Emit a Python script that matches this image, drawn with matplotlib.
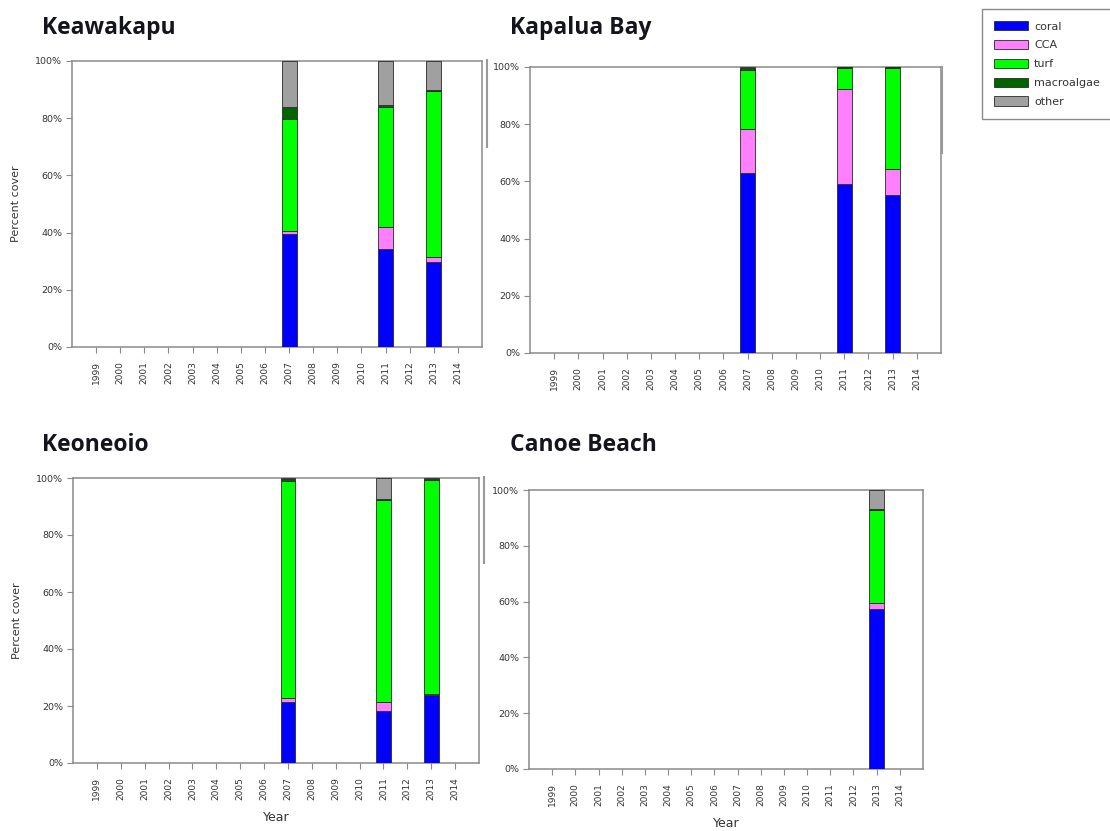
import matplotlib
matplotlib.use("Agg")
import matplotlib.pyplot as plt
from matplotlib.patches import Patch
from matplotlib.lines import Line2D
import numpy as np

# Benthic cover categories and colours
categories = ["coral", "CCA", "turf", "macroalgae", "other"]
cat_colors = ["#0000FF", "#FF80FF", "#00FF00", "#006400", "#A0A0A0"]

# Survey years shown on every x axis
all_years = list(range(1999, 2015))

# Percent cover per site (one value per surveyed year)
keawakapu_years = [2007, 2011, 2013]
keawakapu_coral = [39.4, 34.2, 29.8]
keawakapu_cca = [1.1, 7.9, 1.5]
keawakapu_turf = [39.1, 41.9, 58.3]
keawakapu_macro = [4.2, 0.5, 0.4]
keawakapu_other = [16.2, 15.5, 10.0]

kapalua_years = [2007, 2011, 2013]
kapalua_coral = [62.8, 59.2, 55.1]
kapalua_cca = [15.5, 33.1, 9.1]
kapalua_turf = [20.7, 7.2, 35.4]
kapalua_macro = [0.8, 0.5, 0.4]
kapalua_other = [0.2, 0.0, 0.0]

keoneoio_years = [2007, 2011, 2013]
keoneoio_coral = [21.3, 18.4, 23.9]
keoneoio_cca = [1.6, 2.9, 0.3]
keoneoio_turf = [76.0, 71.1, 75.2]
keoneoio_macro = [0.8, 0.2, 0.4]
keoneoio_other = [0.3, 7.4, 0.2]

canoe_years = [2013]
canoe_coral = [57.3]
canoe_cca = [2.3]
canoe_turf = [33.2]
canoe_macro = [0.3]
canoe_other = [6.9]

W, H = 1110, 831
fig = plt.figure(figsize=(W / 100, H / 100), dpi=100)
fig.patch.set_facecolor("white")

SPINE = "#8a8a8a"
TICKTXT = "#333333"


def px_axes(left, right, top, bottom):
    return fig.add_axes([left / W, (H - bottom) / H, (right - left) / W, (bottom - top) / H])


def stacked(ax, years, series, title, title_xy, ylabel=False, xlabel=False):
    idx = [all_years.index(y) for y in years]
    bottom = np.zeros(len(years))
    for vals, col in zip(series, cat_colors):
        vals = np.asarray(vals, dtype=float)
        ax.bar(idx, vals, width=0.62, bottom=bottom, color=col,
               edgecolor="#2a2a2a", linewidth=0.6, zorder=3)
        bottom += vals
    ax.set_xlim(-1, 16)
    ax.set_ylim(0, 100)
    ax.set_xticks(range(len(all_years)))
    ax.set_xticklabels([str(y) for y in all_years], rotation=90,
                       fontsize=6.5, color=TICKTXT)
    ax.set_yticks(range(0, 101, 20))
    ax.set_yticklabels([f"{v}%" for v in range(0, 101, 20)],
                       fontsize=6.8, color=TICKTXT)
    ax.tick_params(axis="both", direction="out", length=4, width=0.8,
                   color=SPINE, pad=3)
    ax.tick_params(axis="x", pad=6)
    for sp in ax.spines.values():
        sp.set_color(SPINE)
        sp.set_linewidth(1.1)
    if ylabel:
        ax.set_ylabel("Percent cover", fontsize=8, color=TICKTXT, labelpad=10)
    if xlabel:
        ax.set_xlabel("Year", fontsize=9, color=TICKTXT, labelpad=8)
    fig.text(title_xy[0] / W, 1 - title_xy[1] / H, title, fontsize=16.5,
             fontweight="bold", family=["Open Sans", "DejaVu Sans"],
             color="#14141f", ha="left", va="center")


ax_tl = px_axes(72, 482, 61, 347)
stacked(ax_tl, keawakapu_years,
        [keawakapu_coral, keawakapu_cca, keawakapu_turf, keawakapu_macro, keawakapu_other],
        "Keawakapu", (42, 28), ylabel=True)

ax_tr = px_axes(530, 941, 67, 353)
stacked(ax_tr, kapalua_years,
        [kapalua_coral, kapalua_cca, kapalua_turf, kapalua_macro, kapalua_other],
        "Kapalua Bay", (510, 28))

ax_bl = px_axes(73, 479, 478, 763)
stacked(ax_bl, keoneoio_years,
        [keoneoio_coral, keoneoio_cca, keoneoio_turf, keoneoio_macro, keoneoio_other],
        "Keoneoio", (42, 445), ylabel=True, xlabel=True)

ax_br = px_axes(529, 923, 490, 769)
stacked(ax_br, canoe_years,
        [canoe_coral, canoe_cca, canoe_turf, canoe_macro, canoe_other],
        "Canoe Beach", (510, 445), xlabel=True)

# Short frame edges left beside the panels
for x, y0, y1 in [(487, 60, 147), (942, 67, 153), (484, 477, 563)]:
    fig.add_artist(Line2D([x / W, x / W], [1 - y0 / H, 1 - y1 / H],
                          transform=fig.transFigure, color="#9a9a9a", linewidth=1.5))

handles = [Patch(facecolor=c, edgecolor="#2a2a2a", linewidth=0.6) for c in cat_colors]
leg = fig.legend(handles, categories, loc="upper left",
                 bbox_to_anchor=(982 / W, 1 - 9 / H), fontsize=8,
                 handlelength=3.0, handleheight=0.9, labelspacing=0.75,
                 handletextpad=0.6, borderpad=1.1, borderaxespad=0,
                 fancybox=False, framealpha=1)
leg.get_frame().set_edgecolor("#8a8a8a")
leg.get_frame().set_linewidth(1.0)
for t in leg.get_texts():
    t.set_color(TICKTXT)

fig.savefig("out.png", dpi=100, facecolor="white")
